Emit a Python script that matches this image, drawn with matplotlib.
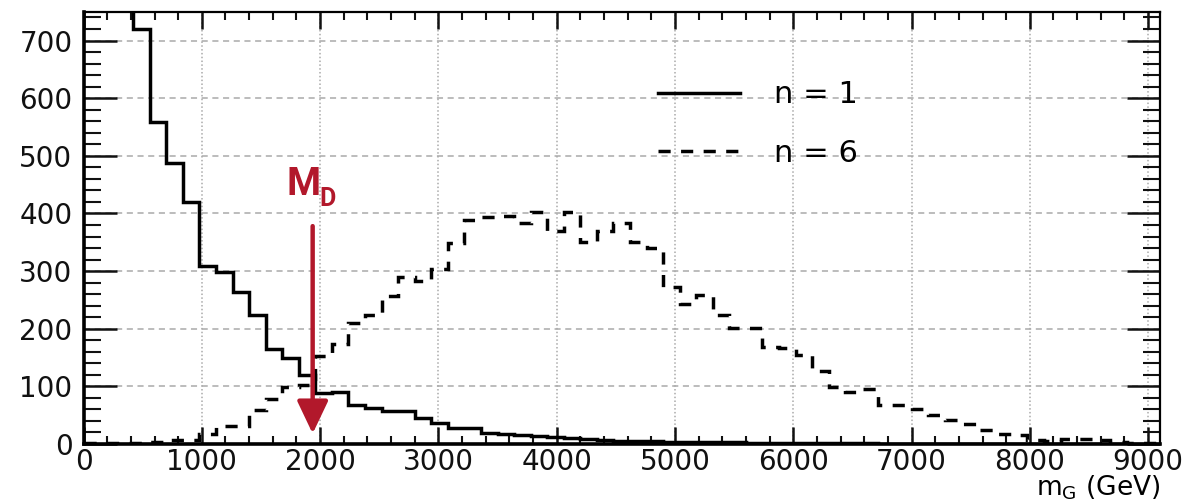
import matplotlib
matplotlib.use("Agg")
import matplotlib.pyplot as plt
from matplotlib.ticker import MultipleLocator
from matplotlib.lines import Line2D

# histogram binning: 65 bins of 140 GeV from 0 to 9100
bin_width = 140
n_bins = 65
edges = [i * bin_width for i in range(n_bins + 1)]

# n = 1 (first three bins run off the top of the frame)
n1 = [1450, 1100, 860, 720, 558, 487, 420, 308, 299, 264,
      224, 165, 149, 120, 88, 91, 68, 62, 58, 58,
      45, 36, 27, 27, 19, 17, 15, 14, 12, 10,
      8, 7, 6, 6, 5, 4, 4, 3, 3, 3,
      2, 2, 2, 1, 1, 1, 1, 1, 0, 0,
      0, 0, 0, 0, 0, 0, 0, 0, 0, 0,
      0, 0, 0, 0, 0]

# n = 6
n6 = [1, 2, 2, 2, 3, 7, 7, 17, 32, 32,
      59, 78, 99, 102, 153, 173, 210, 224, 257, 289,
      282, 303, 348, 389, 394, 395, 383, 403, 370, 402,
      350, 370, 383, 351, 340, 272, 243, 259, 224, 202,
      202, 169, 166, 154, 127, 99, 91, 95, 67, 68,
      61, 50, 42, 35, 24, 17, 15, 7, 6, 8,
      8, 7, 3, 2, 1]

labels = ["n = 1", "n = 6"]
md_mass = 1937          # position of the M_D arrow (GeV)
arrow_top = 378
arrow_tip = 18

red = "#B2182B"
dash = (0, (3.5, 3.0))

plt.rcParams["font.family"] = ["DejaVu Sans"]

fig = plt.figure(figsize=(12.02, 5.03), dpi=100)
ax = fig.add_axes([0.0695, 0.1173, 0.8955, 0.8594])

ax.set_xlim(0, 9100)
ax.set_ylim(0, 750)

# grid like ROOT: dashed horizontal, dotted vertical
for yv in range(100, 750, 100):
    ax.axhline(yv, color="#aaaaaa", lw=1.1, ls=(0, (4, 3)), zorder=0)
for xv in range(1000, 9100, 1000):
    ax.axvline(xv, color="#aaaaaa", lw=1.1, ls=(0, (1, 1.5)), zorder=0)

ax.stairs(n1, edges, baseline=None, color="black", lw=2.5, zorder=3)
ax.stairs(n6, edges, baseline=None, color="black", lw=2.5, ls=dash, zorder=3)

# M_D arrow
ax.annotate("", xy=(md_mass, arrow_tip), xytext=(md_mass, arrow_top),
            arrowprops=dict(arrowstyle="-|>,head_width=0.95,head_length=2.0",
                            color=red, lw=3.2, shrinkA=0, shrinkB=0),
            zorder=5)
ax.text(1715, 432, "M", color=red, fontsize=28, fontweight="bold",
        family=["Roboto", "DejaVu Sans"], ha="left", va="baseline", zorder=5)
ax.text(1995, 413, "D", color=red, fontsize=18, fontweight="bold",
        family=["Roboto", "DejaVu Sans"], ha="left", va="baseline", zorder=5)

# ticks
ax.xaxis.set_major_locator(MultipleLocator(1000))
ax.xaxis.set_minor_locator(MultipleLocator(200))
ax.yaxis.set_major_locator(MultipleLocator(100))
ax.yaxis.set_minor_locator(MultipleLocator(20))
ax.tick_params(axis="y", which="major", direction="in", length=24, width=1.8,
               right=True, labelsize=20, pad=8)
ax.tick_params(axis="y", which="minor", direction="in", length=12, width=1.5,
               right=True)
ax.tick_params(axis="x", which="major", direction="in", length=12, width=1.8,
               top=True, labelsize=20, pad=3)
ax.tick_params(axis="x", which="minor", direction="in", length=6, width=1.5,
               top=True)
ax.tick_params(axis="both", which="both", colors="#111111")

for side in ["left", "bottom"]:
    ax.spines[side].set_linewidth(2.6)
for side in ["top", "right"]:
    ax.spines[side].set_linewidth(1.6)

ax.set_xlabel(r"m$_{\mathrm{G}}$ (GeV)", fontsize=19)
ax.xaxis.set_label_coords(1.0, -0.068)
ax.xaxis.label.set_horizontalalignment("right")

handles = [Line2D([], [], color="black", lw=2.5),
           Line2D([], [], color="black", lw=2.5, ls=dash)]
ax.legend(handles, labels, loc="upper left", bbox_to_anchor=(0.5474, 0.84),
          bbox_transform=fig.transFigure, frameon=False, fontsize=22,
          handlelength=2.7, handletextpad=1.1, labelspacing=0.95,
          borderpad=0, borderaxespad=0)

fig.savefig("out.png", dpi=100)
